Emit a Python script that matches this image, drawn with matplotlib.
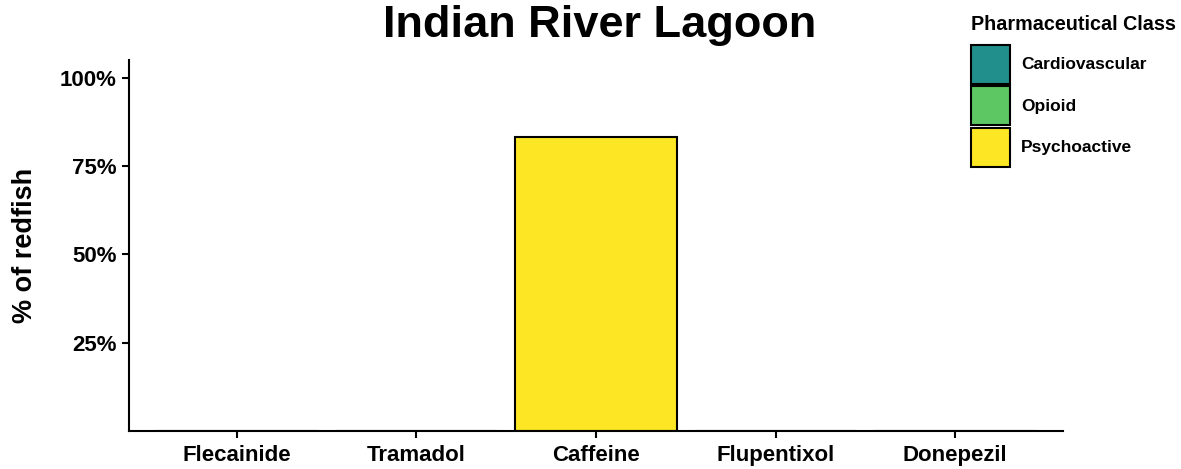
import matplotlib.pyplot as plt
from matplotlib.patches import Rectangle
from matplotlib.ticker import FuncFormatter

drugs = ['Flecainide', 'Tramadol', 'Caffeine', 'Flupentixol', 'Donepezil']
pct_redfish = [0, 0, 83.3, 0, 0]
drug_class = ['Cardiovascular', 'Opioid', 'Psychoactive', 'Psychoactive', 'Psychoactive']
classes = ['Cardiovascular', 'Opioid', 'Psychoactive']
class_colors = {'Cardiovascular': '#21908C', 'Opioid': '#5DC863', 'Psychoactive': '#FDE725'}

plt.rcParams['font.family'] = ['Liberation Sans', 'DejaVu Sans']
plt.rcParams['font.weight'] = 'bold'

W, H = 1181, 469
fig = plt.figure(figsize=(W / 100, H / 100), dpi=100)
ax = fig.add_axes([0.1092, 0.081, 0.7909, 0.791])

x = range(len(drugs))
ax.bar(x, pct_redfish, width=0.9, color=[class_colors[c] for c in drug_class],
       edgecolor='black', linewidth=1.5)

ax.set_xlim(-0.6, len(drugs) - 0.4)
ax.set_ylim(0, 105)
ax.set_yticks([25, 50, 75, 100])
ax.yaxis.set_major_formatter(FuncFormatter(lambda v, p: '%d%%' % v))
ax.set_xticks(list(x))
ax.set_xticklabels(drugs)

for s in ['top', 'right']:
    ax.spines[s].set_visible(False)
for s in ['left', 'bottom']:
    ax.spines[s].set_linewidth(1.5)
ax.tick_params(axis='both', length=5, width=1.5, labelsize=16)
ax.tick_params(axis='y', pad=4)
ax.tick_params(axis='x', pad=5)
for lab in ax.get_xticklabels() + ax.get_yticklabels():
    lab.set_fontweight('bold')

ax.set_ylabel('% of redfish', fontsize=19.5, fontweight='bold')
ax.yaxis.set_label_coords(-0.097, 0.5)
fig.text(0.508, 0.921, 'Indian River Lagoon', ha='center', va='baseline',
         fontsize=32.5, fontweight='bold')

# legend drawn by hand so the keys match ggplot's square boxes
fig.text(971 / W, 1 - 25 / H, 'Pharmaceutical Class', ha='left', va='center',
         fontsize=14.2, fontweight='bold')
for i, c in enumerate(classes):
    top = 45 + i * 41.5
    fig.add_artist(Rectangle((971 / W, 1 - (top + 39) / H), 39 / W, 39 / H,
                             transform=fig.transFigure, facecolor=class_colors[c],
                             edgecolor='black', linewidth=1.5))
    fig.text(1021 / W, 1 - (top + 19.5) / H, c, ha='left', va='center',
             fontsize=12.5, fontweight='bold')

fig.savefig('out.png', dpi=100)
